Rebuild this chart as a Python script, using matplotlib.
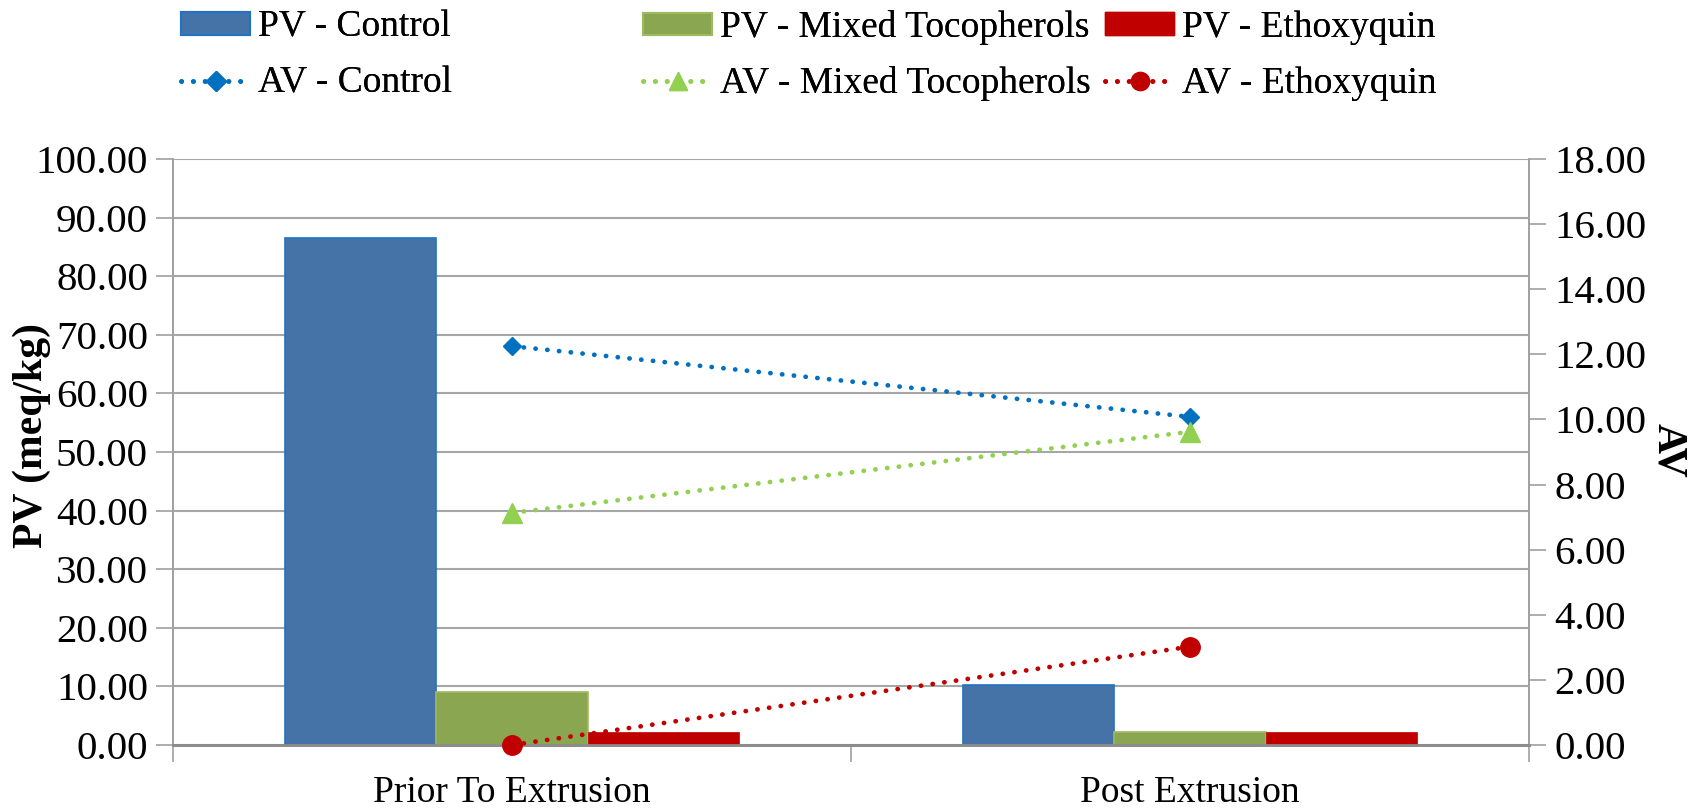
import matplotlib
matplotlib.use("Agg")
import matplotlib.pyplot as plt
import numpy as np
from matplotlib.lines import Line2D
from matplotlib.patches import Patch

categories = ["Prior To Extrusion", "Post Extrusion"]
pv_control = [86.5, 10.2]
pv_mixed = [9.0, 2.3]
pv_ethoxy = [2.2, 2.3]
av_control = [12.25, 10.08]
av_mixed = [7.13, 9.62]
av_ethoxy = [0.0, 3.02]

left_ticks = [0, 10, 20, 30, 40, 50, 60, 70, 80, 90, 100]
right_ticks = [0, 2, 4, 6, 8, 10, 12, 14, 16, 18]

plt.rcParams['font.family'] = ['Liberation Serif', 'DejaVu Serif']
FS_TICK = 29.5
FS_CAT = 27
FS_LEG = 27
FS_LAB = 30

W, H = 1694, 808
fig = plt.figure(figsize=(W / 100, H / 100), dpi=100)
ax = fig.add_axes([173 / W, 1 - 745 / H, (1529 - 173) / W, (745 - 159) / H])
ax2 = ax.twinx()

x = np.arange(len(categories))
w = 0.223
c_blue = "#4572A7"; e_blue = "#1F73C2"
c_green = "#8BA650"; e_green = "#9DBB61"
c_red = "#C00000"

ax.bar(x - w, pv_control, w, color=c_blue, edgecolor=e_blue, linewidth=1.2, zorder=3)
ax.bar(x, pv_mixed, w, color=c_green, edgecolor=e_green, linewidth=1.2, zorder=3)
ax.bar(x + w, pv_ethoxy, w, color=c_red, edgecolor=c_red, linewidth=0.5, zorder=3)

lw = 3.4
dots = (0, (0.05, 2.45))
line_kw = dict(lw=lw, linestyle=dots, dash_capstyle="round")
ax2.plot(x, av_control, color="#0070C0", marker="D", markersize=9.5,
         clip_on=False, zorder=4, **line_kw)
ax2.plot(x, av_mixed, color="#92D050", marker="^", markersize=14,
         clip_on=False, zorder=4, **line_kw)
ax2.plot(x, av_ethoxy, color="#C00000", marker="o", markersize=14,
         clip_on=False, zorder=4, **line_kw)

ax.set_xlim(-0.5, 1.5)
ax.set_ylim(0, 100)
ax2.set_ylim(0, 18)
ax.set_yticks(left_ticks)
ax.set_yticklabels([f"{v:.2f}" for v in left_ticks], fontsize=FS_TICK)
ax2.set_yticks(right_ticks)
ax2.set_yticklabels([f"{v:.2f}" for v in right_ticks], fontsize=FS_TICK)

ax.set_xticks(x)
ax.set_xticklabels(categories, fontsize=FS_CAT)
ax.set_xticks([-0.5, 0.5, 1.5], minor=True)
ax.tick_params(axis="x", which="major", length=0, pad=22)
ax.tick_params(axis="x", which="minor", length=12, color="#A0A0A0", width=1.2)

ax.tick_params(axis="y", length=12, color="#A0A0A0", width=1.2, pad=6)
ax2.tick_params(axis="y", length=12, color="#A0A0A0", width=1.2, pad=6)

ax.yaxis.grid(True, color="#A6A6A6", linewidth=1.5, zorder=0)
ax.set_axisbelow(True)

for a in (ax, ax2):
    a.spines["top"].set_visible(False)
    a.spines["left"].set_color("#A0A0A0")
    a.spines["right"].set_color("#A0A0A0")
    a.spines["left"].set_linewidth(1.2)
    a.spines["right"].set_linewidth(1.2)
    a.spines["bottom"].set_color("#8C8C8C")
    a.spines["bottom"].set_linewidth(2)

fig.text(32 / W, 1 - 435 / H, "PV (meq/kg)", fontsize=FS_LAB, fontweight="bold",
         rotation=90, ha="center", va="center")
fig.text(1668 / W, 1 - 450 / H, "AV", fontsize=FS_LAB, fontweight="bold",
         rotation=270, ha="center", va="center")

# legend entries placed like the reference's grid layout
entries = [
    (Patch(facecolor=c_blue, edgecolor=e_blue, linewidth=1.5), "PV - Control", 0, 0),
    (Patch(facecolor=c_green, edgecolor=e_green, linewidth=1.5), "PV - Mixed Tocopherols", 1, 0),
    (Patch(facecolor=c_red, edgecolor=c_red), "PV - Ethoxyquin", 2, 0),
    (Line2D([], [], color="#0070C0", marker="D", markersize=10, **line_kw), "AV - Control", 0, 1),
    (Line2D([], [], color="#92D050", marker="^", markersize=13, **line_kw), "AV - Mixed Tocopherols", 1, 1),
    (Line2D([], [], color="#C00000", marker="o", markersize=13, **line_kw), "AV - Ethoxyquin", 2, 1),
]
col_x = [181 / W, 643 / W, 1105 / W]
row_y = [1 - 27.5 / H, 1 - 83.5 / H]
for h, lab, c, r in entries:
    leg = fig.legend([h], [lab], loc="center left", bbox_to_anchor=(col_x[c], row_y[r]),
                     frameon=False, fontsize=FS_LEG, handlelength=1.84, handleheight=0.53,
                     handletextpad=0.2, borderaxespad=0, borderpad=0)
    fig.add_artist(leg)

fig.savefig("out.png", dpi=100)
